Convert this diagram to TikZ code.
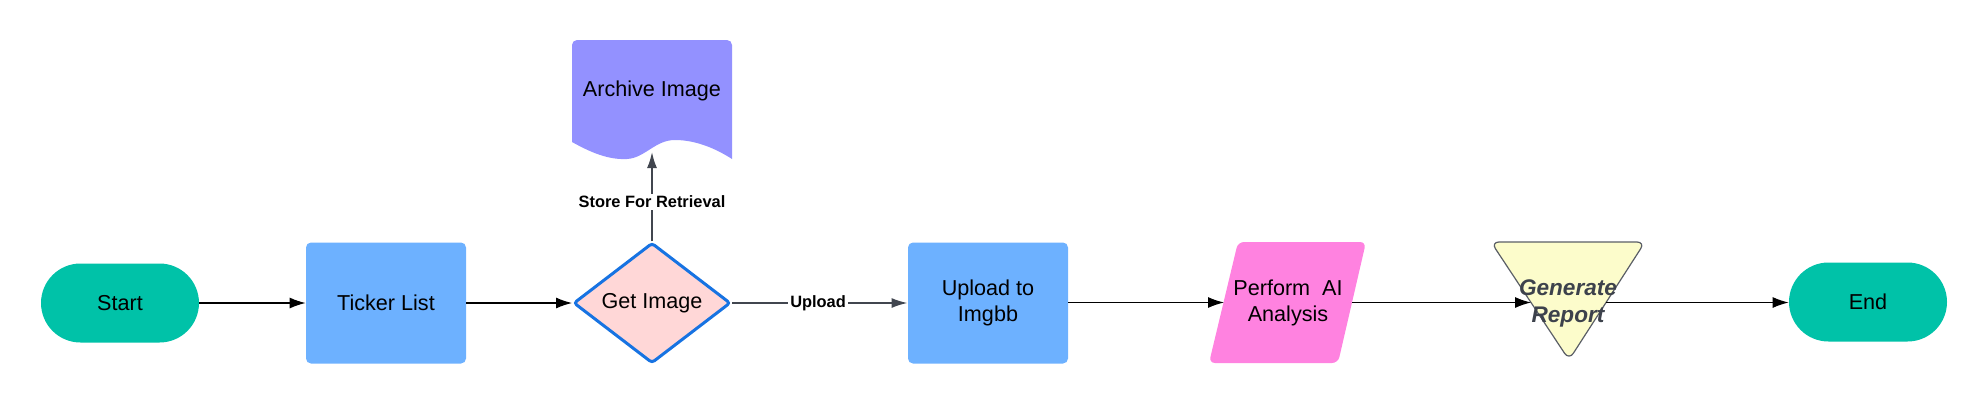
\documentclass[tikz,border=0pt]{standalone}
\usepackage{fontspec}
\setmainfont{Liberation Sans}
\usetikzlibrary{shapes.geometric,arrows.meta}
\definecolor{tealc}{HTML}{00C2A8}
\definecolor{boxblue}{HTML}{6DB1FF}
\definecolor{archc}{HTML}{9391FF}
\definecolor{pinkfill}{HTML}{FFD7D7}
\definecolor{decblue}{HTML}{1773E2}
\definecolor{perfc}{HTML}{FF82E0}
\definecolor{trifill}{HTML}{FCFCCB}
\definecolor{triline}{HTML}{5A5E66}
\definecolor{arrgray}{HTML}{41464F}
\definecolor{gentext}{HTML}{3D424C}
\begin{document}
\begin{tikzpicture}[x=0.5pt,y=-0.5pt,
 txt/.style={font=\fontsize{10.8}{13}\selectfont, text=black, align=center},
 term/.style={txt, rectangle, fill=tealc, minimum width=79pt, minimum height=39.5pt, rounded corners=19.75pt, inner sep=0pt},
 proc/.style={txt, rectangle, fill=boxblue, minimum width=80pt, minimum height=60.5pt, rounded corners=2.5pt, inner sep=0pt},
 dec/.style={txt, diamond, fill=pinkfill, draw=decblue, line width=1.5pt, minimum width=78.5pt, minimum height=57.5pt, inner sep=0pt, rounded corners=1.5pt},
 lbl/.style={font=\fontsize{8.2}{10}\selectfont\bfseries, text=black, fill=white, inner sep=1pt},
 blk/.style={-{Latex[length=8pt,width=5.5pt]}, line width=0.55pt, black},
 gry/.style={-{Latex[length=8pt,width=5pt]}, line width=0.9pt, arrgray},
]
\useasboundingbox (0,0) rectangle (1988,403);
% terminals and processes
\node[term] (start) at (120,303) {Start};
\node[proc] (tick) at (386,303) {Ticker List};
\node[dec] (get) at (652,303) {Get Image};
\node[proc] (up) at (988,303) {Upload to\\Imgbb};
\node[term] (end) at (1868,302) {End};
% archive (document shape)
\fill[archc] (572,142) [rounded corners=2.5pt] -- (572,40) -- (732,40) [sharp corners] -- (732,159)
  .. controls (715,148) and (695,140) .. (675,140)
  .. controls (655,140) and (645,158) .. (627,159)
  .. controls (608,160) and (590,152) .. (572,142) -- cycle;
\node[txt] (arch) at (652,91) {Archive Image};
\coordinate (archB) at (652,152);
% perform AI (parallelogram)
\fill[perfc, rounded corners=3pt] (1238,242) -- (1366,242) -- (1338,363) -- (1209,363) -- cycle;
\node[txt] (perf) at (1288,302.5) {Perform\ \ AI\\Analysis};
\coordinate (perfW) at (1224,302.5);
\coordinate (perfE) at (1352,302.5);
% generate report (triangle)
\filldraw[fill=trifill, draw=triline, line width=0.6pt, rounded corners=4pt] (1491,242) -- (1645,242) -- (1569,360) -- cycle;
\coordinate (genW) at (1531,302.5);
\coordinate (genE) at (1606,302.5);
% connectors
\draw[blk] (start) -- (tick);
\draw[blk] (tick) -- (get);
\draw[gry] (get.north) -- node[lbl, pos=0.44] {Store For Retrieval} (archB);
\draw[gry] (get.east) -- node[lbl, pos=0.49] {Upload} (up.west);
\draw[blk] (up.east |- perfW) -- (perfW);
\draw[blk] (perfE) -- (genW);
\draw[blk] (genE) -- (genE -| end.west);
\node[font=\fontsize{11.3}{13.5}\selectfont\bfseries\itshape, text=gentext, align=center] (gen) at (1568,303.5) {Generate\\Report};
\end{tikzpicture}
\end{document}
